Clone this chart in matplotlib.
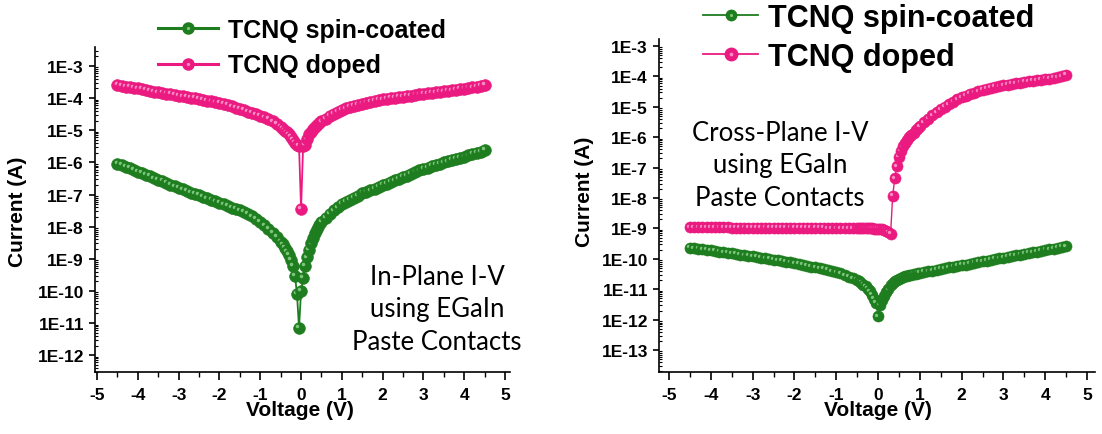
import numpy as np
import matplotlib
matplotlib.use("Agg")
import matplotlib.pyplot as plt
from matplotlib.ticker import FixedLocator, LogLocator, FuncFormatter, MultipleLocator, NullFormatter
from matplotlib.transforms import offset_copy
from matplotlib.lines import Line2D
from matplotlib.legend_handler import HandlerTuple
from matplotlib.font_manager import FontProperties

# ---------------- data ----------------
# In-plane sweep voltages (V)
V_in = [-4.5, -4.4, -4.3, -4.2, -4.1, -4.0, -3.9, -3.8, -3.7, -3.6, -3.5, -3.4, -3.3, -3.2, -3.1,
        -3.0, -2.9, -2.8, -2.7, -2.6, -2.5, -2.4, -2.3, -2.2, -2.1, -2.0, -1.9, -1.8, -1.7, -1.6,
        -1.5, -1.4, -1.3, -1.2, -1.1, -1.0, -0.9, -0.8, -0.7, -0.6, -0.5,
        -0.45, -0.4, -0.35, -0.3, -0.25, -0.2, -0.15, -0.1, -0.05, 0.0, 0.05, 0.1, 0.15, 0.2,
        0.25, 0.3, 0.35, 0.4, 0.45,
        0.5, 0.6, 0.7, 0.8, 0.9, 1.0, 1.1, 1.2, 1.3, 1.4, 1.5, 1.6, 1.7, 1.8, 1.9, 2.0, 2.1, 2.2,
        2.3, 2.4, 2.5, 2.6, 2.7, 2.8, 2.9, 3.0, 3.1, 3.2, 3.3, 3.4, 3.5, 3.6, 3.7, 3.8, 3.9, 4.0,
        4.1, 4.2, 4.3, 4.4, 4.5]

# In-plane current (A), spin-coated film
I_in_spin = [9.0e-7, 8.2e-7, 7.4e-7, 6.6e-7, 5.8e-7, 5.1e-7, 4.6e-7, 4.1e-7, 3.7e-7, 3.2e-7,
             2.9e-7, 2.6e-7, 2.3e-7, 2.0e-7, 1.8e-7, 1.6e-7, 1.45e-7, 1.3e-7, 1.15e-7, 1.05e-7,
             9.5e-8, 8.5e-8, 7.6e-8, 6.8e-8, 6.1e-8, 5.5e-8, 4.9e-8, 4.4e-8, 3.9e-8, 3.5e-8,
             3.2e-8, 2.9e-8, 2.5e-8, 2.1e-8, 1.7e-8, 1.4e-8, 1.1e-8, 8.5e-9, 6.5e-9, 4.8e-9, 3.4e-9,
             2.8e-9, 2.2e-9, 1.7e-9, 1.3e-9, 9.5e-10, 6.0e-10, 3.0e-10, 8.0e-11, 7.0e-12, 1.0e-10,
             2.5e-10, 6.0e-10, 1.1e-9, 1.9e-9, 3.0e-9, 4.5e-9, 6.3e-9, 8.5e-9, 1.1e-8,
             1.4e-8, 1.9e-8, 2.5e-8, 3.2e-8, 4.0e-8, 5.0e-8, 5.9e-8, 6.9e-8, 8.0e-8, 9.3e-8,
             1.1e-7, 1.2e-7, 1.35e-7, 1.5e-7, 1.7e-7, 2.0e-7, 2.2e-7, 2.45e-7, 2.75e-7, 3.1e-7,
             3.5e-7, 3.9e-7, 4.4e-7, 5.0e-7, 5.6e-7, 6.3e-7, 6.9e-7, 7.6e-7, 8.3e-7, 9.1e-7,
             1.0e-6, 1.08e-6, 1.17e-6, 1.27e-6, 1.38e-6, 1.5e-6, 1.64e-6, 1.8e-6, 1.97e-6, 2.15e-6,
             2.4e-6]

# In-plane current (A), doped film
I_in_doped = [2.6e-4, 2.45e-4, 2.3e-4, 2.2e-4, 2.1e-4, 2.0e-4, 1.9e-4, 1.8e-4, 1.7e-4, 1.6e-4,
              1.52e-4, 1.45e-4, 1.38e-4, 1.32e-4, 1.26e-4, 1.2e-4, 1.14e-4, 1.09e-4, 1.04e-4, 9.9e-5,
              9.4e-5, 8.9e-5, 8.4e-5, 7.9e-5, 7.4e-5, 7.0e-5, 6.5e-5, 6.0e-5, 5.5e-5, 5.0e-5,
              4.6e-5, 4.2e-5, 3.8e-5, 3.4e-5, 3.1e-5, 2.8e-5, 2.5e-5, 2.2e-5, 1.9e-5, 1.55e-5, 1.25e-5,
              1.1e-5, 9.8e-6, 8.6e-6, 7.4e-6, 6.2e-6, 5.0e-6, 4.0e-6, 3.4e-6, 3.2e-6, 3.5e-8,
              3.2e-6, 3.6e-6, 5.5e-6, 7.5e-6, 9.0e-6, 1.1e-5, 1.3e-5, 1.5e-5, 1.7e-5,
              1.9e-5, 2.3e-5, 2.8e-5, 3.3e-5, 3.8e-5, 4.3e-5, 4.8e-5, 5.3e-5, 5.8e-5, 6.3e-5,
              6.8e-5, 7.3e-5, 7.8e-5, 8.3e-5, 8.7e-5, 9.1e-5, 9.5e-5, 9.9e-5, 1.03e-4, 1.07e-4,
              1.11e-4, 1.15e-4, 1.2e-4, 1.25e-4, 1.3e-4, 1.35e-4, 1.4e-4, 1.45e-4, 1.5e-4, 1.56e-4,
              1.62e-4, 1.68e-4, 1.75e-4, 1.82e-4, 1.9e-4, 1.98e-4, 2.06e-4, 2.15e-4, 2.25e-4, 2.4e-4,
              2.6e-4]

# Cross-plane sweep voltages (V)
V_cross = [-4.5, -4.4, -4.3, -4.2, -4.1, -4.0, -3.9, -3.8, -3.7, -3.6, -3.5, -3.4, -3.3, -3.2, -3.1,
           -3.0, -2.9, -2.8, -2.7, -2.6, -2.5, -2.4, -2.3, -2.2, -2.1, -2.0, -1.9, -1.8, -1.7, -1.6,
           -1.5, -1.4, -1.3, -1.2, -1.1, -1.0, -0.9, -0.8, -0.7, -0.6, -0.5,
           -0.45, -0.4, -0.35, -0.3, -0.25, -0.2, -0.15, -0.1, -0.05, 0.0, 0.05, 0.1, 0.15, 0.2,
           0.25, 0.3, 0.35, 0.4, 0.45, 0.5, 0.55, 0.6, 0.65, 0.7, 0.75, 0.8, 0.85, 0.9, 0.95,
           1.0, 1.1, 1.2, 1.3, 1.4, 1.5, 1.6, 1.7, 1.8, 1.9, 2.0, 2.1, 2.2, 2.3, 2.4, 2.5, 2.6,
           2.7, 2.8, 2.9, 3.0, 3.1, 3.2, 3.3, 3.4, 3.5, 3.6, 3.7, 3.8, 3.9, 4.0, 4.1, 4.2, 4.3,
           4.4, 4.5]

# Cross-plane current (A), spin-coated film
I_cross_spin = [2.3e-10, 2.2e-10, 2.1e-10, 2.05e-10, 1.95e-10, 1.9e-10, 1.8e-10, 1.72e-10, 1.65e-10,
                1.58e-10, 1.5e-10, 1.44e-10, 1.38e-10, 1.32e-10, 1.26e-10, 1.2e-10, 1.14e-10,
                1.08e-10, 1.03e-10, 9.8e-11, 9.3e-11, 8.9e-11, 8.4e-11, 8.0e-11, 7.6e-11, 7.2e-11,
                6.8e-11, 6.4e-11, 6.0e-11, 5.6e-11, 5.3e-11, 4.9e-11, 4.6e-11, 4.3e-11, 3.9e-11,
                3.6e-11, 3.3e-11, 2.9e-11, 2.6e-11, 2.3e-11, 2.0e-11,
                1.8e-11, 1.6e-11, 1.4e-11, 1.25e-11, 1.05e-11, 8.5e-12, 6.5e-12, 4.8e-12, 3.5e-12,
                1.3e-12, 3.0e-12, 4.5e-12, 6.0e-12, 8.0e-12, 1.0e-11, 1.4e-11, 1.6e-11, 1.8e-11,
                2.0e-11, 2.2e-11, 2.35e-11, 2.5e-11, 2.65e-11, 2.75e-11, 2.9e-11, 3.0e-11, 3.15e-11,
                3.25e-11, 3.4e-11,
                3.5e-11, 3.7e-11, 3.9e-11, 4.1e-11, 4.4e-11, 4.6e-11, 4.9e-11, 5.2e-11, 5.5e-11,
                5.8e-11, 6.2e-11, 6.5e-11, 6.9e-11, 7.3e-11, 7.8e-11, 8.2e-11, 8.7e-11, 9.2e-11,
                9.8e-11, 1.04e-10, 1.1e-10, 1.16e-10, 1.23e-10, 1.3e-10, 1.38e-10, 1.46e-10,
                1.55e-10, 1.64e-10, 1.74e-10, 1.84e-10, 1.95e-10, 2.05e-10, 2.15e-10, 2.3e-10,
                2.45e-10, 2.6e-10]

# Cross-plane current (A), doped film
I_cross_doped = [1.1e-9, 1.1e-9, 1.1e-9, 1.09e-9, 1.09e-9, 1.09e-9, 1.08e-9, 1.08e-9, 1.08e-9,
                 1.08e-9, 1.07e-9, 1.07e-9, 1.07e-9, 1.07e-9, 1.06e-9, 1.06e-9, 1.06e-9, 1.06e-9,
                 1.05e-9, 1.05e-9, 1.05e-9, 1.05e-9, 1.04e-9, 1.04e-9, 1.04e-9, 1.04e-9, 1.04e-9,
                 1.03e-9, 1.03e-9, 1.03e-9, 1.03e-9, 1.03e-9, 1.03e-9, 1.02e-9, 1.02e-9, 1.02e-9,
                 1.02e-9, 1.02e-9, 1.02e-9, 1.02e-9, 1.02e-9,
                 1.02e-9, 1.02e-9, 1.0e-9, 1.0e-9, 1.0e-9, 1.0e-9, 1.0e-9, 9.8e-10, 9.8e-10,
                 9.6e-10, 9.5e-10, 9.3e-10, 9.0e-10, 8.5e-10, 7.5e-10, 6.5e-10, 1.2e-8, 4.4e-8,
                 1.1e-7, 2.3e-7, 3.6e-7, 5.0e-7, 6.5e-7, 8.0e-7, 1.0e-6, 1.2e-6, 1.4e-6, 1.7e-6,
                 2.0e-6,
                 2.3e-6, 3.1e-6, 4.0e-6, 5.2e-6, 6.6e-6, 8.2e-6, 1.0e-5, 1.2e-5, 1.45e-5, 1.75e-5,
                 2.05e-5, 2.35e-5, 2.65e-5, 2.95e-5, 3.25e-5, 3.55e-5, 3.85e-5, 4.15e-5, 4.45e-5,
                 4.75e-5, 5.05e-5, 5.35e-5, 5.65e-5, 5.95e-5, 6.25e-5, 6.55e-5, 6.85e-5, 7.15e-5,
                 7.45e-5, 7.8e-5, 8.15e-5, 8.5e-5, 8.9e-5, 9.4e-5, 1.0e-4, 1.1e-4]

series_labels = ["TCNQ spin-coated", "TCNQ doped"]
x_ticks = [-5, -4, -3, -2, -1, 0, 1, 2, 3, 4, 5]
in_decades = [1e-3, 1e-4, 1e-5, 1e-6, 1e-7, 1e-8, 1e-9, 1e-10, 1e-11, 1e-12]
cross_decades = [1e-3, 1e-4, 1e-5, 1e-6, 1e-7, 1e-8, 1e-9, 1e-10, 1e-11, 1e-12, 1e-13]

# ---------------- style ----------------
plt.rcParams["font.family"] = ["Liberation Sans", "DejaVu Sans"]
plt.rcParams["font.weight"] = "bold"

GREEN, GREEN_HI = "#1e7d1e", "#7cc67c"
PINK, PINK_HI = "#ea1a80", "#f98cc4"

W, H = 1102, 435
fig = plt.figure(figsize=(W / 100, H / 100), dpi=100)


def px_axes(x0, y0, x1, y1):
    """Create axes from a pixel box (top-left origin)."""
    return fig.add_axes([x0 / W, 1 - y1 / H, (x1 - x0) / W, (y1 - y0) / H])


def draw_series(ax, v, cur, color, light, ms, lw):
    ax.plot(v, cur, "-", color=color, lw=lw, zorder=2)
    hl = offset_copy(ax.transData, fig=fig, x=-ms * 0.15, y=ms * 0.15, units="points")
    for k, (x, y) in enumerate(zip(v, cur)):
        z = 3 + k * 0.002
        ax.plot([x], [y], "o", ms=ms, mfc=color, mec=color, mew=0.4, zorder=z)
        ax.plot([x], [y], "o", ms=ms * 0.3, mfc=light, mec="none", zorder=z + 0.001,
                transform=hl)


def style_axes(ax, xlim, ylim, decades):
    ax.set_yscale("log")
    ax.set_xlim(*xlim)
    ax.set_ylim(*ylim)
    for s in ("top", "right"):
        ax.spines[s].set_visible(False)
    for s in ("left", "bottom"):
        ax.spines[s].set_linewidth(1.2)
    ax.xaxis.set_major_locator(FixedLocator(x_ticks))
    ax.xaxis.set_minor_locator(MultipleLocator(0.5))
    ax.yaxis.set_major_locator(FixedLocator(decades))
    ax.yaxis.set_minor_locator(LogLocator(base=10, subs=np.arange(2, 10), numticks=40))
    ax.yaxis.set_minor_formatter(NullFormatter())
    ax.yaxis.set_major_formatter(FuncFormatter(lambda v, p: "1E%d" % int(round(np.log10(v)))))
    ax.xaxis.set_major_formatter(FuncFormatter(lambda v, p: "%d" % v))
    ax.tick_params(axis="x", which="major", direction="out", length=6, width=1.2, pad=5,
                   labelsize=12.5)
    ax.tick_params(axis="x", which="minor", direction="out", length=3.5, width=1.0)
    ax.tick_params(axis="y", which="major", direction="out", length=4, width=1.2, pad=4,
                   labelsize=12.5)
    ax.tick_params(axis="y", which="minor", direction="in", length=2.5, width=0.8)


def legend_handle(color, light, ms, lw):
    return (Line2D([], [], color=color, lw=lw, marker="o", ms=ms, mfc=color, mec=color),
            Line2D([], [], ls="none", marker="o", ms=ms * 0.3, mfc=light, mec="none"))


# ---------------- in-plane panel ----------------
ax1 = px_axes(95, 48, 510, 373)
style_axes(ax1, (-5.05, 5.12), (3.0e-13, 3.9e-3), in_decades)
draw_series(ax1, V_in, I_in_spin, GREEN, GREEN_HI, 8.5, 1.3)
draw_series(ax1, V_in, I_in_doped, PINK, PINK_HI, 8.5, 1.3)

ax1.legend([legend_handle(GREEN, GREEN_HI, 8, 2.2), legend_handle(PINK, PINK_HI, 8, 2.2)],
           series_labels, handler_map={tuple: HandlerTuple(ndivide=1)},
           loc="upper left", bbox_to_anchor=(158 / W, 1 - 19 / H),
           bbox_transform=fig.transFigure, frameon=False,
           prop=FontProperties(family="Liberation Sans", weight="bold", size=18),
           handlelength=2.4, handletextpad=0.4, labelspacing=0.45, borderpad=0,
           borderaxespad=0)

fig.text(437 / W, 1 - 310 / H, "In-Plane I-V\nusing EGaIn\nPaste Contacts", ha="center",
         va="center", family="Lato", weight="normal", fontsize=18.5, linespacing=1.38)
fig.text(18 / W, 1 - 212 / H, "Current (A)", rotation=90, ha="center", va="center",
         fontsize=15)
fig.text(300 / W, 1 - 411 / H, "Voltage (V)", ha="center", va="center", fontsize=15)

# ---------------- cross-plane panel ----------------
ax2 = px_axes(659, 40, 1095, 373)
style_axes(ax2, (-5.24, 5.19), (1.9e-14, 1.7e-3), cross_decades)
draw_series(ax2, V_cross, I_cross_spin, GREEN, GREEN_HI, 8, 1.0)
draw_series(ax2, V_cross, I_cross_doped, PINK, PINK_HI, 8, 1.0)

ax2.legend([legend_handle(GREEN, GREEN_HI, 7.5, 1.3), legend_handle(PINK, PINK_HI, 9, 1.3)],
           series_labels, handler_map={tuple: HandlerTuple(ndivide=1)},
           loc="upper left", bbox_to_anchor=(703 / W, 1 - 4 / H),
           bbox_transform=fig.transFigure, frameon=False,
           prop=FontProperties(family="Liberation Sans", weight="bold", size=22),
           handlelength=1.8, handletextpad=0.32, labelspacing=0.3, borderpad=0,
           borderaxespad=0)

fig.text(780 / W, 1 - 166 / H, "Cross-Plane I-V\nusing EGaIn\nPaste Contacts", ha="center",
         va="center", family="Lato", weight="normal", fontsize=18.5, linespacing=1.38)
fig.text(585 / W, 1 - 192 / H, "Current (A)", rotation=90, ha="center", va="center",
         fontsize=15)
fig.text(878 / W, 1 - 411 / H, "Voltage (V)", ha="center", va="center", fontsize=15)

fig.savefig("out.png", dpi=100)
